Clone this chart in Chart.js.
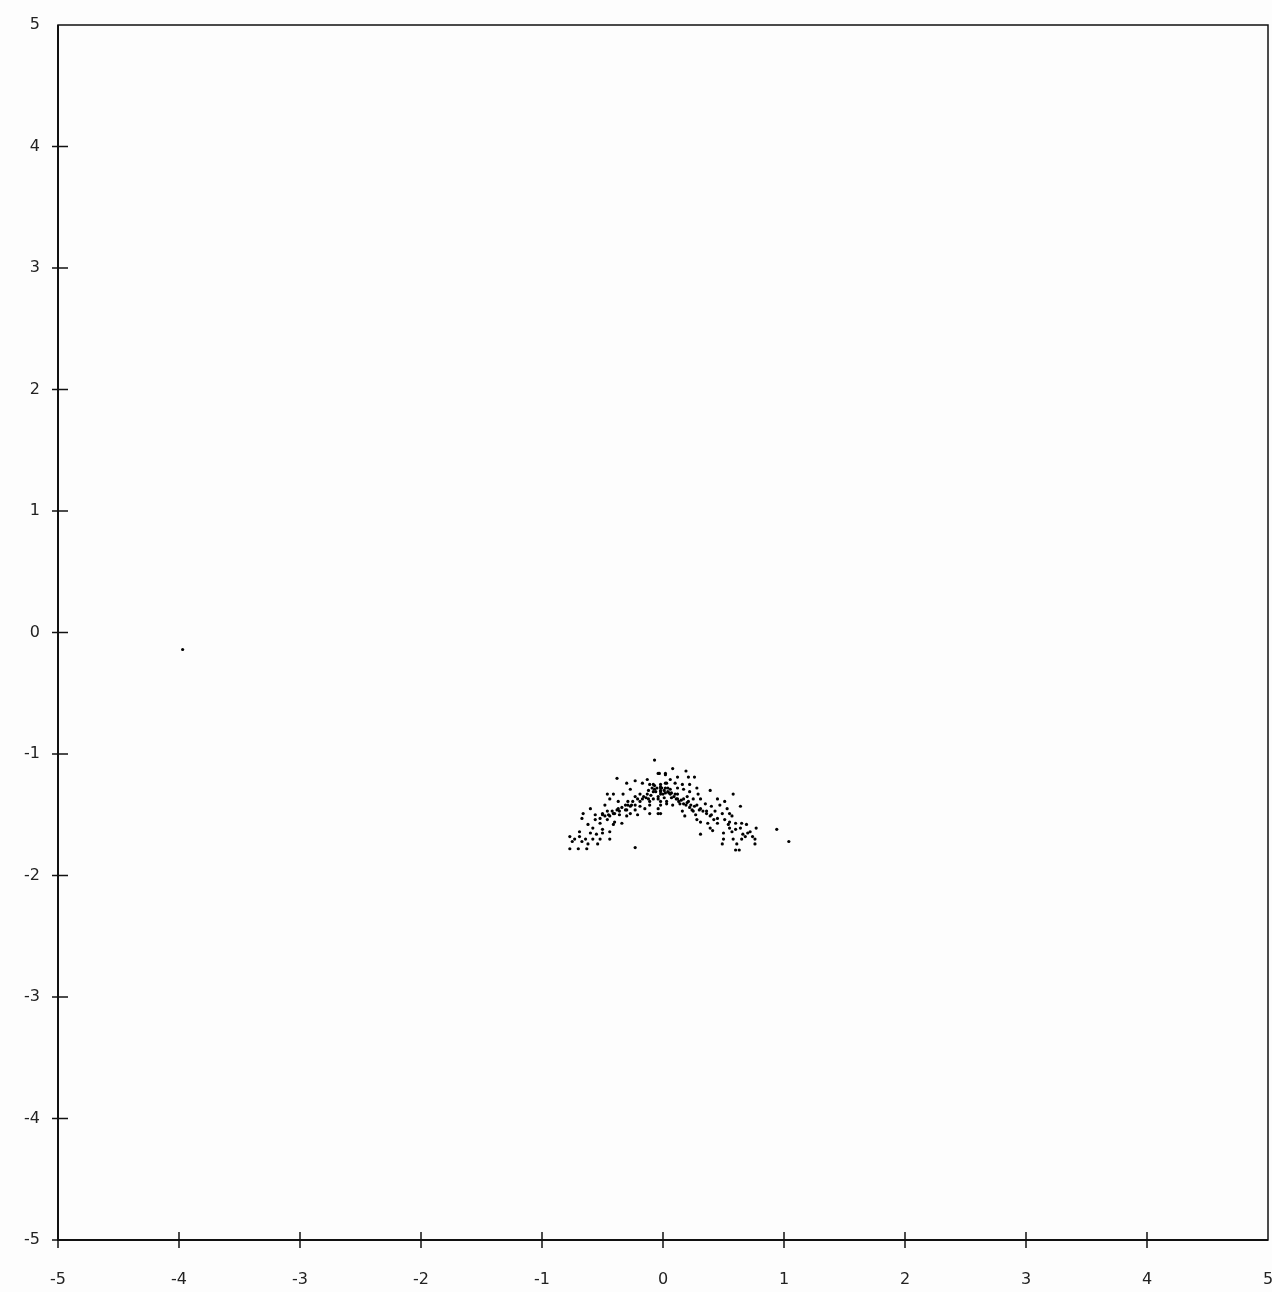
<!DOCTYPE html>
<html>
<head>
<meta charset="utf-8">
<script src="https://cdn.jsdelivr.net/npm/chart.js@4/dist/chart.umd.min.js"></script>
<style>
  html, body { margin: 0; padding: 0; background: #fdfdfd; }
  #wrap { width: 1272px; height: 1292px; }
</style>
</head>
<body>
<div id="wrap"><canvas id="scatter"></canvas></div>
<script>
// tick values on both axes
const tickValues = [-5, -4, -3, -2, -1, 0, 1, 2, 3, 4, 5];

// point cloud
const xs = [
  -0.07, -0.03, 0.02, -0.38, -0.23, -0.13, -0.30, -0.17, -0.11, -0.02,
  0.03, -0.27, -0.33, -0.46, -0.41, -0.12, -0.07, -0.02, 0.00, -0.19,
  -0.23, -0.44, -0.37, -0.29, -0.17, -0.12, -0.08, -0.04, 0.03, -0.48,
  -0.31, -0.26, -0.19, -0.11, -0.02, -0.60, -0.37, -0.30, -0.23, -0.15,
  -0.11, -0.02, -0.66, -0.56, -0.50, -0.45, -0.41, -0.36, -0.27, -0.21,
  -0.67, -0.56, -0.46, -0.40, -0.34, -0.30, -0.62, -0.52, -0.41, -0.58,
  -0.50, -0.44, -0.69, -0.60, -0.55, -0.50, -0.77, -0.73, -0.69, -0.64,
  -0.58, -0.52, -0.44, -0.75, -0.67, -0.62, -0.77, -0.70, -0.63, -0.54,
  -0.23,
  -0.04, 0.02, 0.08, 0.19, 0.26, 0.21, 0.12, 0.06, 0.10, 0.16,
  0.22, 0.28, -0.08, -0.02, 0.02, 0.04, 0.12, 0.17, 0.22, 0.29,
  0.39, 0.58, -0.08, -0.02, 0.06, 0.12, 0.20, 0.25, 0.31, 0.45,
  0.51, -0.11, -0.02, 0.03, 0.08, 0.14, 0.21, 0.28, 0.35, 0.40,
  0.47, 0.53, 0.64, -0.04, 0.16, 0.24, 0.31, 0.36, 0.43, 0.49,
  0.55, -0.04, 0.18, 0.39, 0.45, 0.51, 0.57, 0.28, 0.31, 0.37,
  0.45, 0.55, 0.60, 0.65, 0.69, 0.54, 0.39, 0.41, 0.55, 0.60,
  0.64, 0.77, 0.31, 0.50, 0.57, 0.66, 0.70, 0.72, 0.74, 0.94,
  0.50, 0.58, 0.65, 0.68, 0.76, 1.04, 0.49, 0.61, 0.76, 0.60,
  0.63,
  -0.01, 0.01, 0.02, 0.04, -0.02, -0.06, 0.06, 0.07, -0.04, 0.01,
  0.09, 0.11, 0.13, 0.17, 0.19, 0.22, 0.25, 0.27, -0.14, -0.19,
  -0.23, -0.27, -0.31, -0.36, -0.40, -0.44, -0.48, -0.52,
  -0.09, -0.07, -0.05, -0.02, 0.02, 0.05, 0.07, 0.10, 0.12, 0.15,
  0.17, 0.20, 0.23, 0.26, 0.30, 0.33, 0.36, 0.40, 0.42, -0.10,
  -0.13, -0.16, -0.21, -0.25, -0.29, -0.34, -0.38, -0.42, -0.46, -0.50,
  -3.97
];
const ys = [
  -1.05, -1.16, -1.17, -1.20, -1.22, -1.21, -1.24, -1.24, -1.25, -1.25,
  -1.24, -1.29, -1.33, -1.33, -1.33, -1.30, -1.29, -1.28, -1.33, -1.33,
  -1.35, -1.37, -1.39, -1.39, -1.37, -1.37, -1.37, -1.37, -1.39, -1.42,
  -1.42, -1.42, -1.43, -1.42, -1.42, -1.45, -1.45, -1.46, -1.46, -1.45,
  -1.49, -1.49, -1.49, -1.50, -1.50, -1.50, -1.49, -1.50, -1.49, -1.50,
  -1.53, -1.54, -1.54, -1.56, -1.57, -1.51, -1.58, -1.57, -1.58, -1.61,
  -1.62, -1.64, -1.64, -1.65, -1.66, -1.65, -1.68, -1.70, -1.68, -1.70,
  -1.70, -1.70, -1.70, -1.72, -1.72, -1.74, -1.78, -1.78, -1.78, -1.74,
  -1.77,
  -1.16, -1.16, -1.12, -1.14, -1.19, -1.19, -1.19, -1.21, -1.24, -1.25,
  -1.25, -1.28, -1.25, -1.27, -1.24, -1.28, -1.28, -1.29, -1.31, -1.33,
  -1.30, -1.33, -1.31, -1.33, -1.33, -1.33, -1.35, -1.37, -1.37, -1.37,
  -1.39, -1.39, -1.39, -1.41, -1.42, -1.41, -1.39, -1.42, -1.41, -1.43,
  -1.42, -1.45, -1.43, -1.45, -1.47, -1.46, -1.45, -1.47, -1.47, -1.49,
  -1.49, -1.49, -1.51, -1.51, -1.53, -1.54, -1.51, -1.54, -1.56, -1.57,
  -1.57, -1.56, -1.57, -1.57, -1.58, -1.58, -1.61, -1.63, -1.61, -1.62,
  -1.61, -1.61, -1.66, -1.65, -1.64, -1.66, -1.65, -1.64, -1.68, -1.62,
  -1.70, -1.70, -1.70, -1.68, -1.70, -1.72, -1.74, -1.74, -1.74, -1.79,
  -1.79,
  -1.28, -1.30, -1.32, -1.31, -1.30, -1.31, -1.29, -1.32, -1.35, -1.36,
  -1.35, -1.37, -1.39, -1.41, -1.42, -1.44, -1.47, -1.50, -1.36, -1.39,
  -1.42, -1.43, -1.46, -1.47, -1.49, -1.51, -1.51, -1.53,
  -1.28, -1.26, -1.28, -1.31, -1.28, -1.32, -1.36, -1.33, -1.37, -1.38,
  -1.37, -1.40, -1.42, -1.43, -1.46, -1.47, -1.49, -1.50, -1.54, -1.34,
  -1.33, -1.35, -1.37, -1.39, -1.42, -1.44, -1.46, -1.47, -1.47, -1.49,
  -0.14
];

const points = xs.map((x, i) => ({ x: x, y: ys[i] }));

// frame round the plot plus ticks that cross the axis lines
const framePlugin = {
  id: 'frame',
  afterDraw(chart) {
    const ctx = chart.ctx;
    const area = chart.chartArea;
    const xScale = chart.scales.x;
    const yScale = chart.scales.y;
    ctx.save();
    ctx.strokeStyle = '#111';
    ctx.lineWidth = 1.5;
    ctx.strokeRect(area.left, area.top, area.right - area.left, area.bottom - area.top);
    ctx.lineWidth = 2;
    ctx.beginPath();
    ctx.moveTo(area.left, area.top);
    ctx.lineTo(area.left, area.bottom);
    ctx.lineTo(area.right, area.bottom);
    ctx.stroke();
    ctx.lineWidth = 1.5;
    tickValues.forEach(v => {
      if (v === 5) return;
      const px = xScale.getPixelForValue(v);
      ctx.beginPath();
      ctx.moveTo(px, area.bottom - 8);
      ctx.lineTo(px, area.bottom + 8);
      ctx.stroke();
      const py = yScale.getPixelForValue(v);
      ctx.beginPath();
      ctx.moveTo(area.left - 6, py);
      ctx.lineTo(area.left + 10, py);
      ctx.stroke();
    });
    ctx.restore();
  }
};

new Chart(document.getElementById('scatter'), {
  type: 'scatter',
  data: {
    datasets: [{
      label: 'points',
      data: points,
      pointRadius: 1.6,
      pointHoverRadius: 1.6,
      pointBorderWidth: 0,
      backgroundColor: '#000',
      borderColor: '#000'
    }]
  },
  plugins: [framePlugin],
  options: {
    responsive: true,
    maintainAspectRatio: false,
    animation: false,
    layout: { padding: { top: 25, right: 4, left: 0, bottom: 0 } },
    plugins: {
      legend: { display: false },
      tooltip: { enabled: false }
    },
    scales: {
      x: {
        type: 'linear',
        min: -5,
        max: 5,
        afterBuildTicks: scale => { scale.ticks = tickValues.map(v => ({ value: v })); },
        afterFit: scale => {
          scale.height = 52;
          scale.paddingLeft = 0;
          scale.paddingRight = 0;
        },
        grid: { display: false, drawTicks: false },
        border: { display: false },
        ticks: {
          padding: 30,
          color: '#222',
          font: { family: 'DejaVu Sans', size: 16 },
          maxRotation: 0
        }
      },
      y: {
        type: 'linear',
        min: -5,
        max: 5,
        afterBuildTicks: scale => { scale.ticks = tickValues.map(v => ({ value: v })); },
        afterFit: scale => {
          scale.width = 58;
          scale.paddingTop = 0;
          scale.paddingBottom = 0;
        },
        grid: { display: false, drawTicks: false },
        border: { display: false },
        ticks: {
          padding: 18,
          color: '#222',
          font: { family: 'DejaVu Sans', size: 16 }
        }
      }
    }
  }
});
</script>
</body>
</html>
